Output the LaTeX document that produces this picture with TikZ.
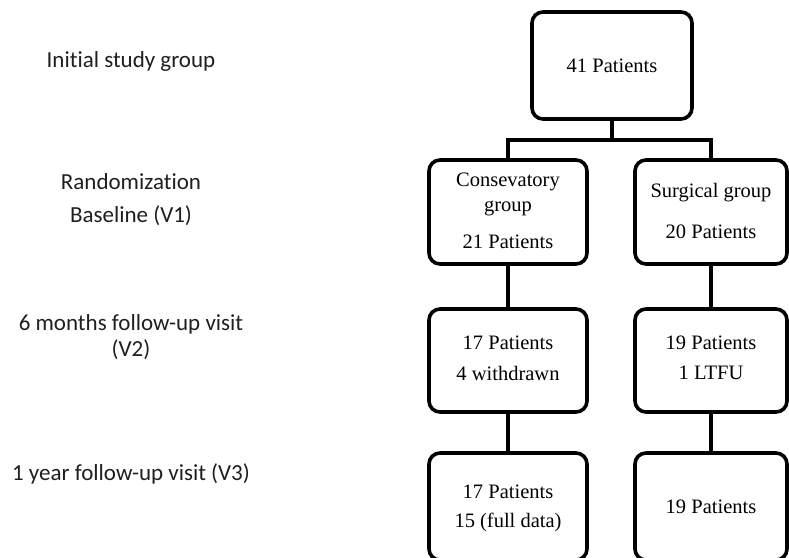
\documentclass[tikz,border=0pt]{standalone}
\usepackage{fontspec}
\setmainfont{Liberation Serif}
\newfontfamily\lblfont[Ligatures={NoCommon}]{Carlito}
\begin{document}
\begin{tikzpicture}[x=1pt,y=-1pt,
  boxst/.style={draw=black,line width=3.6pt,rounded corners=11pt},
  conn/.style={draw=black,line width=3.6pt},
  btext/.style={font=\fontsize{20.5}{24}\selectfont,inner sep=0pt,align=center},
  ltext/.style={font=\lblfont\fontsize{23}{26}\selectfont,inner sep=0pt,align=center,text=black!88}]
\useasboundingbox (0,0) rectangle (789,557);
% boxes
\draw[boxst] (532,12) rectangle (692,119);
\coordinate (topb) at (612,119);
\draw[boxst] (429,160) rectangle (587,264);
\draw[boxst] (635,160) rectangle (787,264);
\draw[boxst] (429,309) rectangle (587,412);
\draw[boxst] (635,309) rectangle (787,412);
\draw[boxst] (429,453) rectangle (587,560);
\draw[boxst] (635,453) rectangle (787,560);
% named anchors
\coordinate (j) at (612,140);
\coordinate (jl) at (508,140);
\coordinate (jr) at (711,140);
\coordinate (b1lt) at (508,160);
\coordinate (b1rt) at (711,160);
\coordinate (b1lb) at (508,264);
\coordinate (b1rb) at (711,264);
\coordinate (b2lt) at (508,309);
\coordinate (b2rt) at (711,309);
\coordinate (b2lb) at (508,412);
\coordinate (b2rb) at (711,412);
\coordinate (b3lt) at (508,453);
\coordinate (b3rt) at (711,453);
% connectors
\draw[conn] (topb) -- (j);
\draw[conn] (b1lt) -- (jl) -- (jr) -- (b1rt);
\draw[conn] (b1lb) -- (b2lt);
\draw[conn] (b1rb) -- (b2rt);
\draw[conn] (b2lb) -- (b3lt);
\draw[conn] (b2rb) -- (b3rt);
% box texts
\node[btext] (t0) at (612,66) {41 Patients};
\node[btext] (t1a) at (508,182) {Consevatory};
\node[btext] (t1b) at (508,208) {group};
\node[btext] (t1c) at (508,242) {21 Patients};
\node[btext] (t1d) at (711,193) {Surgical group};
\node[btext] (t1e) at (711,232) {20 Patients};
\node[btext] (t2a) at (508,343) {17 Patients};
\node[btext] (t2b) at (508,373) {4 withdrawn};
\node[btext] (t2c) at (711,343) {19 Patients};
\node[btext] (t2d) at (711,373) {1 LTFU};
\node[btext] (t3a) at (508,492) {17 Patients};
\node[btext] (t3b) at (508,522) {15 (full data)};
\node[btext] (t3c) at (711,507) {19 Patients};
% left labels
\node[ltext] (l0) at (131,61) {Initial study group};
\node[ltext] (l1) at (131,182) {Randomization};
\node[ltext] (l2) at (131,216) {Baseline (V1)};
\node[ltext] (l3) at (131,324) {6 months follow-up visit};
\node[ltext] (l4) at (131,350) {(V2)};
\node[ltext] (l5) at (131,474) {1 year follow-up visit (V3)};
\end{tikzpicture}
\end{document}
